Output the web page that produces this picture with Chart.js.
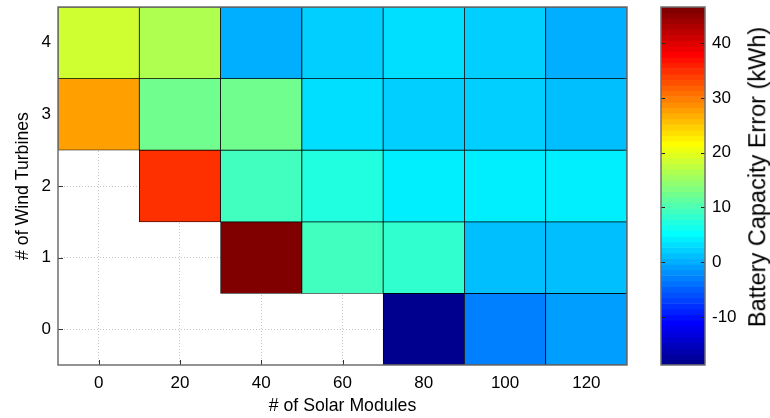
<!DOCTYPE html>
<html><head><meta charset="utf-8">
<script src="https://cdn.jsdelivr.net/npm/chart.js"></script>
<style>
html,body{margin:0;padding:0;background:#fff;}
#wrap{position:relative;width:770px;height:418px;overflow:hidden;background:#fff;}
#main{position:absolute;left:0;top:0;}
#cbar{position:absolute;left:640px;top:0;}
#cbTitle{position:absolute;left:758px;top:177px;transform:translate(-50%,-50%) rotate(-90deg);white-space:nowrap;font-family:"Liberation Sans",Arial,sans-serif;font-size:23.5px;color:#000;line-height:1;}
</style></head>
<body><div id="wrap"><canvas id="main" width="640" height="418"></canvas><canvas id="cbar" width="130" height="418"></canvas><div id="cbTitle"></div></div>
<script>
// ---- data ----
const solarModules = [0, 20, 40, 60, 80, 100, 120];
const windTurbines = [0, 1, 2, 3, 4];
const errWind0 = [null, null, null, null, -18.8, -3.0, -0.9];
const errWind1 = [null, null, 46.6, 9.3, 8.3, 1.1, 1.1];
const errWind2 = [null, 34.8, 9.3, 7.3, 4.2, 4.2, 4.2];
const errWind3 = [27.7, 12.4, 12.4, 3.2, 2.2, 2.2, 1.1];
const errWind4 = [18.5, 16.5, 0.1, 2.2, 3.2, 2.2, 0.1];
const xTickLabels = [0, 20, 40, 60, 80, 100, 120];
const yTickLabels = [0, 1, 2, 3, 4];
const colorbarTicks = [-10, 0, 10, 20, 30, 40];
const xTitle = '# of Solar Modules';
const yTitle = '# of Wind Turbines';
const cbTitle = 'Battery Capacity Error (kWh)';

document.getElementById('cbTitle').textContent = cbTitle;

// ---- MATLAB jet colormap ----
function jetMap(m) {
  const n = Math.ceil(m / 4);
  const u = [];
  for (let i = 1; i <= n; i++) u.push(i / n);
  for (let i = 0; i < n - 1; i++) u.push(1);
  for (let i = n; i >= 1; i--) u.push(i / n);
  const gOff = Math.ceil(n / 2) - (m % 4 === 1 ? 1 : 0);
  const cols = Array.from({length: m}, () => [0, 0, 0]);
  for (let k = 0; k < u.length; k++) {
    const g = gOff + k, r = g + n, b = g - n;
    if (g >= 0 && g < m) cols[g][1] = u[k];
    if (r >= 0 && r < m) cols[r][0] = u[k];
    if (b >= 0 && b < m) cols[b][2] = u[k];
  }
  return cols.map(c => 'rgb(' + c.map(x => Math.round(x * 255)).join(',') + ')');
}
const NC = 64;
const jet = jetMap(NC);
const rows = [errWind0, errWind1, errWind2, errWind3, errWind4];
const allVals = rows.flat().filter(v => v !== null);
const cmin = Math.min(...allVals), cmax = Math.max(...allVals);
function colorFor(v) {
  const idx = Math.min(NC - 1, Math.max(0, Math.floor((v - cmin) / (cmax - cmin) * NC)));
  return jet[idx];
}

// ---- cells ----
const yHalf = (windTurbines[1] - windTurbines[0]) / 2;
const cells = [], cellColors = [];
windTurbines.forEach((w, ri) => {
  rows[ri].forEach((v, ci) => {
    if (v === null) return;
    cells.push({x: solarModules[ci], y: [w - yHalf, w + yHalf]});
    cellColors.push(colorFor(v));
  });
});
const xHalf = (solarModules[1] - solarModules[0]) / 2;

Chart.defaults.font.family = '"Liberation Sans", Arial, sans-serif';
Chart.defaults.font.size = 17;
Chart.defaults.color = '#000';
Chart.defaults.animation = false;

const AX = '#6f6f6f';
const frame = {
  id: 'frame',
  beforeDatasetsDraw(chart) {
    const {ctx, chartArea: a, scales} = chart;
    ctx.save();
    ctx.strokeStyle = '#333';
    ctx.lineWidth = 1;
    ctx.beginPath();
    scales.x.ticks.forEach(t => {
      const p = Math.round(scales.x.getPixelForValue(t.value)) + 0.5;
      ctx.moveTo(p, a.bottom); ctx.lineTo(p, a.bottom - 5);
    });
    scales.y.ticks.forEach(t => {
      const p = Math.round(scales.y.getPixelForValue(t.value)) + 0.5;
      ctx.moveTo(a.left, p); ctx.lineTo(a.left + 5, p);
    });
    ctx.stroke();
    ctx.restore();
  },
  afterDatasetsDraw(chart) {
    const {ctx, chartArea: a} = chart;
    ctx.save();
    ctx.strokeStyle = AX;
    ctx.lineWidth = 1.5;
    ctx.strokeRect(a.left, a.top, a.right - a.left, a.bottom - a.top);
    ctx.restore();
  }
};

new Chart(document.getElementById('main'), {
  type: 'bar',
  data: {
    datasets: [{
      data: cells,
      backgroundColor: cellColors,
      borderColor: '#000',
      borderWidth: 0.75,
      borderSkipped: false,
      barPercentage: 1,
      categoryPercentage: 1
    }]
  },
  options: {
    responsive: false,
    layout: {padding: {top: 7, right: 13, left: 0, bottom: 0}},
    plugins: {legend: {display: false}, tooltip: {enabled: false}},
    scales: {
      x: {
        type: 'linear',
        min: solarModules[0] - xHalf,
        max: solarModules[solarModules.length - 1] + xHalf,
        offset: false,
        afterBuildTicks: s => { s.ticks = xTickLabels.map(v => ({value: v})); },
        afterFit: s => { s.height = 53; s.paddingLeft = 0; s.paddingRight = 0; },
        ticks: {padding: 8, maxRotation: 0, autoSkip: false},
        grid: {offset: false, drawTicks: false, color: '#c4c4c4', lineWidth: 1},
        border: {display: false, dash: [1, 2]},
        title: {display: true, text: xTitle, font: {size: 17.7}, padding: {top: 0, bottom: 1}}
      },
      y: {
        type: 'linear',
        min: windTurbines[0] - yHalf,
        max: windTurbines[windTurbines.length - 1] + yHalf,
        afterBuildTicks: s => { s.ticks = yTickLabels.map(v => ({value: v})); },
        afterFit: s => { s.width = 58; s.paddingTop = 0; s.paddingBottom = 0; },
        ticks: {padding: 7, autoSkip: false},
        grid: {drawTicks: false, color: '#c4c4c4', lineWidth: 1},
        border: {display: false, dash: [1, 2]},
        title: {display: true, text: yTitle, font: {size: 17.7}, padding: {top: 12, bottom: 0}}
      }
    }
  },
  plugins: [frame]
});

// ---- colorbar ----
const bands = [];
for (let i = 0; i < NC; i++) {
  bands.push({x: 'cb', y: [cmin + i * (cmax - cmin) / NC, cmin + (i + 1) * (cmax - cmin) / NC]});
}
const cbFrame = {
  id: 'cbFrame',
  afterDatasetsDraw(chart) {
    const {ctx, chartArea: a, scales} = chart;
    ctx.save();
    ctx.strokeStyle = '#222';
    ctx.lineWidth = 1;
    ctx.beginPath();
    scales.y.ticks.forEach(t => {
      const p = Math.round(scales.y.getPixelForValue(t.value)) + 0.5;
      ctx.moveTo(a.left, p); ctx.lineTo(a.left + 4, p);
      ctx.moveTo(a.right, p); ctx.lineTo(a.right - 4, p);
    });
    ctx.stroke();
    ctx.strokeStyle = AX;
    ctx.lineWidth = 1.5;
    ctx.strokeRect(a.left, a.top, a.right - a.left, a.bottom - a.top);
    ctx.restore();
  }
};
new Chart(document.getElementById('cbar'), {
  type: 'bar',
  data: {
    labels: ['cb'],
    datasets: [{
      data: bands,
      backgroundColor: jet,
      borderWidth: 0,
      barPercentage: 1,
      categoryPercentage: 1
    }]
  },
  options: {
    responsive: false,
    layout: {padding: {top: 7, right: 0, left: 21, bottom: 53}},
    plugins: {legend: {display: false}, tooltip: {enabled: false}},
    scales: {
      x: {type: 'category', display: false},
      y: {
        type: 'linear',
        position: 'right',
        min: cmin,
        max: cmax,
        afterBuildTicks: s => { s.ticks = colorbarTicks.map(v => ({value: v})); },
        afterFit: s => { s.width = 65; s.paddingTop = 0; s.paddingBottom = 0; },
        ticks: {padding: 7, autoSkip: false},
        grid: {display: false, drawTicks: false},
        border: {display: false}
      }
    }
  },
  plugins: [cbFrame]
});
</script>
</body></html>
